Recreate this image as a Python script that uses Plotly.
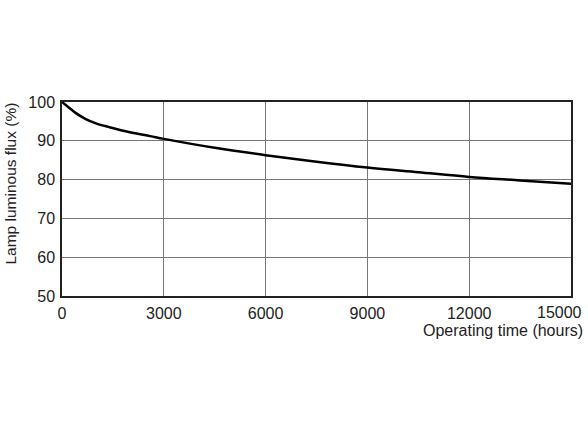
import plotly.graph_objects as go

# operating time (hours) and lamp luminous flux (%)
hours = [0, 200, 400, 700, 1000, 1400, 2000, 2600, 3000, 4500, 6000,
         7500, 9000, 10500, 12000, 13500, 15000]
flux = [100, 98.6, 97.2, 95.6, 94.5, 93.5, 92.2, 91.2, 90.5, 88.2, 86.3,
        84.6, 83.1, 81.9, 80.7, 79.8, 78.9]

x_ticks = [0, 3000, 6000, 9000, 12000, 15000]
x_labels = ["0", "3000", "6000", "9000", "12000", ""]
last_label = "15000"
y_ticks = [50, 60, 70, 80, 90, 100]

font = "Liberation Sans, Arial, sans-serif"

fig = go.Figure()
fig.add_trace(go.Scatter(
    x=hours, y=flux, mode="lines",
    line=dict(color="black", width=2.5, shape="spline", smoothing=1.0),
    showlegend=False,
))

fig.update_layout(
    width=588, height=441,
    margin=dict(l=62, r=17, t=102, b=145),
    plot_bgcolor="white", paper_bgcolor="white",
    font=dict(family=font, size=16, color="#222"),
    xaxis=dict(range=[0, 15000], tickvals=x_ticks, ticktext=x_labels,
               ticks="outside", ticklen=2, tickcolor="white", showgrid=True,
               gridcolor="#777", gridwidth=1, showline=True, linecolor="#222",
               linewidth=1.5, mirror=True, zeroline=False),
    yaxis=dict(range=[50, 100], tickvals=y_ticks, ticks="outside", ticklen=2,
               tickcolor="white", showgrid=True,
               gridcolor="#777", gridwidth=1, showline=True, linecolor="#222",
               linewidth=1.5, mirror=True, zeroline=False),
    annotations=[
        # last x tick label sits shifted left so it fits in the picture
        dict(text=last_label, xref="paper", yref="paper", x=1, y=0,
             xanchor="right", yanchor="top", xshift=13, yshift=-6,
             showarrow=False, font=dict(size=16)),
        dict(text="Operating time (hours)", xref="paper", yref="paper",
             x=1.0275, y=-0.122, xanchor="right", yanchor="top",
             showarrow=False, font=dict(size=16)),
        dict(text="Lamp luminous flux (%)", xref="paper", yref="paper",
             x=-0.102, y=0.58, xanchor="center", yanchor="middle",
             textangle=-90, showarrow=False, font=dict(size=15.5)),
    ],
)

fig.write_html("out.html", config={"displayModeBar": False},
               post_script="document.body.style.margin='0';")
